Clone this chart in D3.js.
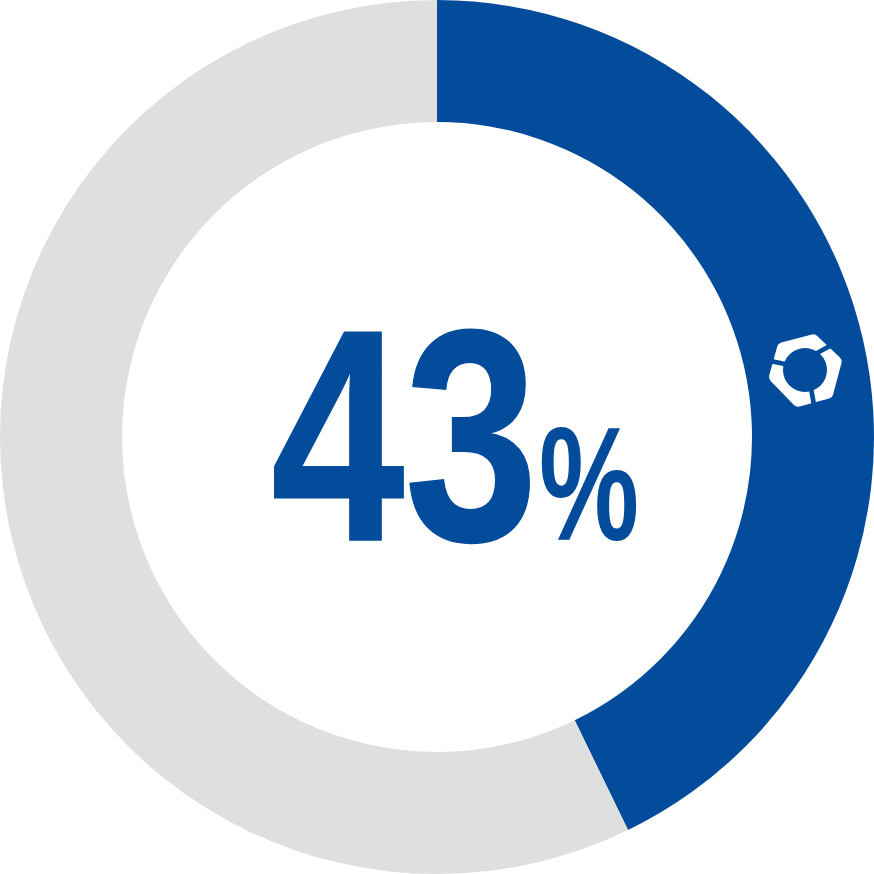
<!DOCTYPE html>
<html>
<head>
<meta charset="utf-8">
<script src="https://cdn.jsdelivr.net/npm/d3@7"></script>
<style>
html, body { margin: 0; padding: 0; background: #fff; }
svg { display: block; }
</style>
</head>
<body>
<div id="chart"></div>
<script>
let categories = ['yes', 'other'];
let values = [42.8, 57.2];
let colors = ['#034c9c', '#dfdfdf'];
let bigLabel = '43';
let unitLabel = '%';

// logo outline and the cuts through the ring
let logoHex = [[98, 84], [190, 60], [258, 125], [233, 219], [144, 243], [74, 171]];
let logoCuts = [[[200, 100], [245, 75]], [[105, 132], [55, 122]], [[183, 205], [192, 255]]];

let width = 874;
let height = 874;

let svg = d3.select('#chart').append('svg')
    .attr('width', width)
    .attr('height', height);

let g = svg.append('g')
    .attr('transform', 'translate(437,437)');

let pie = d3.pie().sort(null);
let arc = d3.arc().innerRadius(315).outerRadius(437);

g.selectAll('path')
    .data(pie(values))
    .join('path')
    .attr('d', arc)
    .attr('fill', (d, i) => colors[i]);

// big number, squeezed a bit like the original type
svg.append('text')
    .attr('id', 'big')
    .attr('transform', 'translate(271,540) scale(0.795,1)')
    .attr('font-family', 'Liberation Sans')
    .attr('font-weight', 700)
    .attr('font-size', 302)
    .attr('stroke', colors[0])
    .attr('stroke-width', 1.5)
    .attr('fill', colors[0])
    .text(bigLabel);

svg.append('text')
    .attr('id', 'unit')
    .attr('transform', 'translate(539,540) scale(0.695,1)')
    .attr('font-family', 'Liberation Sans')
    .attr('font-weight', 700)
    .attr('font-size', 162)
    .attr('fill', colors[0])
    .text(unitLabel);

// small logo on the blue band (zoom crop coords, 3x)
let logo = svg.append('g')
    .attr('transform', 'translate(750,320) scale(0.3333)');

let line = d3.line();

logo.append('path')
    .attr('d', line(logoHex) + 'Z')
    .attr('fill', '#fff')
    .attr('stroke', '#fff')
    .attr('stroke-width', 34)
    .attr('stroke-linejoin', 'round');

logo.append('circle')
    .attr('cx', 165)
    .attr('cy', 150)
    .attr('r', 66)
    .attr('fill', colors[0]);

logo.selectAll('.cut')
    .data(logoCuts)
    .join('path')
    .attr('class', 'cut')
    .attr('d', d => line(d))
    .attr('stroke', colors[0])
    .attr('stroke-width', 14)
    .attr('fill', 'none');
</script>
</body>
</html>
